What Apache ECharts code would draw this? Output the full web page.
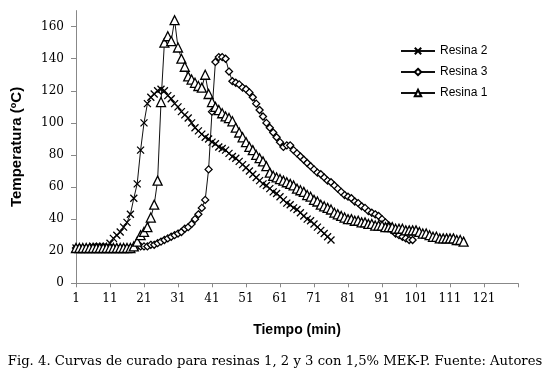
<!DOCTYPE html>
<html>
<head>
<meta charset="utf-8">
<script src="https://cdn.jsdelivr.net/npm/echarts@6/dist/echarts.min.js"></script>
<style>
  html, body { margin: 0; padding: 0; background: #fff; }
  #chart { width: 550px; height: 375px; }
</style>
</head>
<body>
<div id="chart"></div>
<script>
// eje x: minutos 1..131 (categorias)
var minutos = []
for (var i = 1; i <= 131; i++) minutos.push(String(i))

// Resina 2 (min 1..76)
var resina2 = [22, 22, 22, 22, 22, 23, 23, 23, 23, 23,
  25, 28, 30, 32, 35, 38, 43, 53, 62, 83,
  100, 112, 116, 118, 120, 121, 120, 117, 115, 112,
  110, 107, 105, 103, 100, 97, 95, 93, 91, 90,
  88, 87, 85, 84, 83, 81, 79, 78, 76, 74,
  72, 70, 68, 66, 64, 62, 61, 59, 57, 56,
  54, 52, 50, 49, 47, 46, 44, 42, 40, 39,
  37, 35, 33, 31, 29, 27]

// Resina 3 (min 1..100)
var resina3 = [22, 22, 22, 22, 22, 22, 22, 22, 22, 22,
  22, 22, 22, 22, 22, 22, 22, 22, 23, 23,
  23, 23, 24, 24, 25, 26, 27, 28, 29, 30,
  31, 32, 34, 35, 37, 40, 43, 47, 52, 71,
  107, 138, 141, 141, 140, 132, 126, 125, 124, 122,
  121, 119, 116, 112, 108, 104, 100, 97, 94, 91,
  88, 85, 86, 86, 83, 81, 79, 77, 75, 73,
  71, 69, 68, 66, 64, 63, 61, 59, 57, 55,
  54, 53, 51, 50, 48, 47, 45, 44, 43, 42,
  40, 38, 36, 33, 31, 30, 29, 28, 27, 27]

// Resina 1 (min 1..115)
var resina1 = [22, 22, 22, 22, 22, 22, 22, 22, 22, 22,
  22, 22, 22, 22, 22, 22, 22, 23, 26, 30,
  32, 35, 41, 49, 64, 113, 150, 154, 151, 164,
  147, 140, 135, 129, 127, 125, 123, 122, 130, 118,
  113, 110, 108, 106, 104, 103, 101, 97, 94, 91,
  88, 85, 83, 80, 78, 76, 73, 69, 67, 66,
  65, 64, 63, 62, 61, 59, 58, 57, 55, 54,
  52, 51, 49, 48, 47, 46, 44, 43, 42, 41,
  40, 40, 39, 39, 38, 38, 37, 37, 36, 36,
  36, 35, 35, 35, 34, 34, 34, 33, 33, 33,
  33, 32, 31, 31, 30, 29, 29, 28, 28, 28,
  28, 28, 27, 27, 26]

var marcaX = 'path://M0,0L10,10M10,0L0,10'

var chart = echarts.init(document.getElementById('chart'))

function serie(nombre, datos, simbolo, tam) {
  return {
    name: nombre,
    type: 'line',
    data: datos,
    symbol: simbolo,
    symbolSize: tam,
    showAllSymbol: true,
    animation: false,
    lineStyle: { color: '#111', width: 1 },
    itemStyle: { color: '#fff', borderColor: '#000', borderWidth: 1.3 }
  }
}

chart.setOption({
  backgroundColor: '#fff',
  animation: false,
  grid: { left: 76, right: 32, top: 10.6, bottom: 91.7 },
  legend: {
    orient: 'vertical',
    left: 395,
    top: 40,
    itemWidth: 34,
    itemHeight: 8,
    itemGap: 9,
    textStyle: { fontFamily: 'Liberation Sans', fontSize: 12, color: '#000' },
    data: ['Resina 2', 'Resina 3', 'Resina 1']
  },
  xAxis: {
    type: 'category',
    data: minutos,
    boundaryGap: false,
    name: 'Tiempo (min)',
    nameLocation: 'middle',
    nameGap: 40,
    nameTextStyle: { fontFamily: 'Liberation Sans', fontWeight: 'bold', fontSize: 14, color: '#000' },
    axisLine: { lineStyle: { color: '#888' } },
    axisTick: { interval: 9, length: 4, lineStyle: { color: '#888' } },
    axisLabel: {
      interval: 9,
      margin: 10,
      fontFamily: 'DejaVu Serif',
      fontSize: 12,
      color: '#000',
      formatter: function (v) { return v === '131' ? '' : v }
    },
    splitLine: { show: false }
  },
  yAxis: {
    type: 'value',
    min: 0,
    max: 170,
    interval: 20,
    name: 'Temperatura (ºC)',
    nameLocation: 'middle',
    nameGap: 52,
    nameTextStyle: { fontFamily: 'Liberation Sans', fontWeight: 'bold', fontSize: 15, color: '#000' },
    axisLine: { show: true, lineStyle: { color: '#888' } },
    axisTick: { show: true, length: 5, lineStyle: { color: '#888' } },
    axisLabel: {
      margin: 12,
      showMaxLabel: false,
      fontFamily: 'DejaVu Serif',
      fontSize: 12,
      color: '#000'
    },
    splitLine: { show: false }
  },
  graphic: [{
    type: 'text',
    left: 'center',
    top: 355,
    style: {
      text: 'Fig. 4. Curvas de curado para resinas 1, 2 y 3 con 1,5% MEK-P. Fuente: Autores',
      font: '13.2px "DejaVu Serif"',
      fill: '#000'
    }
  }],
  series: [
    serie('Resina 2', resina2, marcaX, 7),
    serie('Resina 3', resina3, 'diamond', 7),
    serie('Resina 1', resina1, 'triangle', 9)
  ]
})
</script>
</body>
</html>
